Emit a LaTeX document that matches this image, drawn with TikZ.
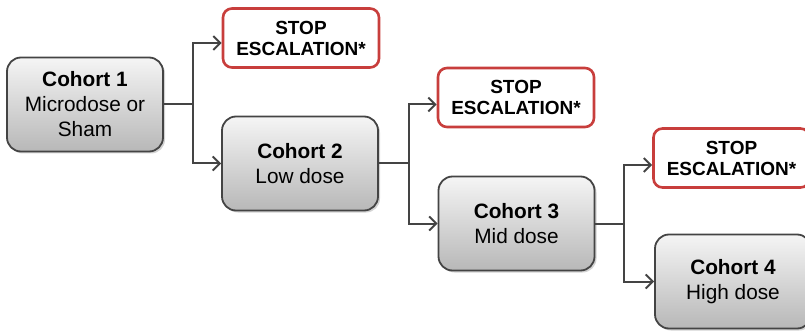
\documentclass[tikz,border=0pt]{standalone}
\usepackage{fontspec}
\setmainfont{Liberation Sans}
\usetikzlibrary{shapes,arrows.meta,positioning,calc,shadows}
\definecolor{stopred}{RGB}{200,62,60}
\definecolor{linegray}{RGB}{68,68,68}

\begin{document}
\begin{tikzpicture}[
    x=1pt, y=-1pt,
    cohort/.style = {rectangle, draw=linegray, line width=1.8pt, rounded corners=14pt, minimum width=156pt, minimum height=94pt, align=center, top color=black!4, bottom color=black!28, drop shadow={shadow xshift=2pt, shadow yshift=-2pt, opacity=0.35}, font=\fontsize{20.8}{25}\selectfont},
    stopbox/.style = {rectangle, draw=stopred, line width=2.6pt, rounded corners=9pt, minimum width=156pt, minimum height=59pt, align=center, fill=white, font=\bfseries\fontsize{19}{21}\selectfont},
    arr/.style = {draw=linegray, line width=2pt, -{Straight Barb[length=7pt,width=14pt]}},
    link/.style = {draw=linegray, line width=2pt}
]
\useasboundingbox (0,0) rectangle (805,331);

\node[cohort] (c1) at (85,104.5) {\textbf{Cohort 1}\\Microdose or\\Sham};
\node[stopbox] (s1) at (301,38) {STOP\\ESCALATION*};
\node[cohort] (c2) at (300,163.5) {\textbf{Cohort 2}\\Low dose};
\node[stopbox] (s2) at (516,97.5) {STOP\\ESCALATION*};
\node[cohort] (c3) at (516.5,223.5) {\textbf{Cohort 3}\\Mid dose};
\node[stopbox] (s3) at (731.5,158) {STOP\\ESCALATION*};
\node[cohort] (c4) at (733,281.5) {\textbf{Cohort 4}\\High dose};

% forks
\draw[link] (c1.east) -- ++(29,0) coordinate (f1);
\draw[arr] (f1) |- ([yshift=-5pt]s1.west);
\draw[arr] (f1) |- (c2.west);

\draw[link] (c2.east) -- ++(30,0) coordinate (f2);
\draw[arr] (f2) |- ([yshift=-7pt]s2.west);
\draw[arr] (f2) |- (c3.west);

\draw[link] (c3.east) -- ++(29,0) coordinate (f3);
\draw[arr] (f3) |- ([yshift=-7pt]s3.west);
\draw[arr] (f3) |- (c4.west);
\end{tikzpicture}
\end{document}
